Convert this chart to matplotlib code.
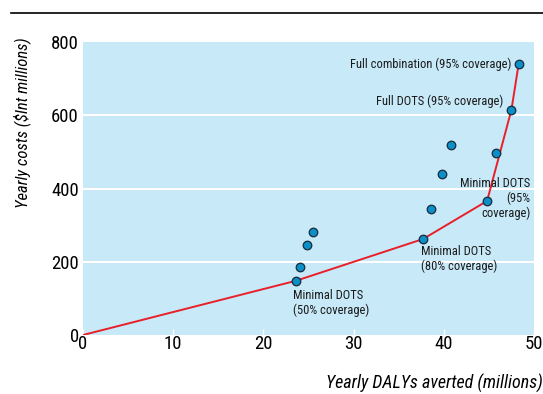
import matplotlib
matplotlib.use("Agg")
from matplotlib import pyplot as plt
from matplotlib import font_manager

# frontier points (DALYs averted in millions, cost in $Int millions)
frontier_x = [0, 23.6, 37.7, 44.8, 47.5, 48.3]
frontier_y = [0, 148, 262, 366, 615, 740]

# all interventions shown as dots
points_x = [23.6, 24.1, 24.8, 25.5, 37.7, 38.6, 39.8, 40.8, 44.8, 45.8, 47.5, 48.3]
points_y = [148, 186, 246, 281, 262, 344, 440, 519, 366, 497, 615, 740]

labels = [
    "Minimal DOTS\n(50% coverage)",
    "Minimal DOTS\n(80% coverage)",
    "Minimal DOTS\n(95%\ncoverage)",
    "Full DOTS (95% coverage)",
    "Full combination (95% coverage)",
]
label_x = [23.6, 37.7, 44.8, 47.5, 48.3]
label_y = [148, 262, 366, 615, 740]

xticks = [0, 10, 20, 30, 40, 50]
yticks = [0, 200, 400, 600, 800]

names = {f.name for f in font_manager.fontManager.ttflist}
family = "Roboto Condensed" if "Roboto Condensed" in names else "Liberation Sans"
plt.rcParams["font.family"] = [family, "DejaVu Sans"]

fig = plt.figure(figsize=(5.43, 3.94), dpi=100)
ax = fig.add_axes([83 / 543, 1 - 335 / 394, (534 - 83) / 543, (335 - 42) / 394])
ax.set_facecolor("#c8e9f8")
for s in ax.spines.values():
    s.set_visible(False)

for y in yticks[1:4]:
    ax.axhline(y, color="white", lw=1.5, zorder=1)

ax.plot(frontier_x, frontier_y, color="#e8202a", lw=1.4, zorder=2)
ax.scatter(points_x, points_y, s=38, color="#0a8fc8", edgecolor="#1a2a3a",
           linewidth=0.9, zorder=3)

ax.set_xlim(0, 50)
ax.set_ylim(0, 800)
ax.set_xticks(xticks)
ax.set_yticks(yticks)
ax.tick_params(axis="x", direction="in", length=4, color="white", width=1,
               labelsize=13.5, pad=0)
ax.tick_params(axis="y", length=0, labelsize=13.5, pad=3)

fs = 9
offsets = [(-2, -6), (-1.5, -4.5), (31, 17), (-6, 6), (-5, 0)]
aligns = [("left", "top"), ("left", "top"), ("right", "top"),
          ("right", "center"), ("right", "center")]
for text, x, y, off, (ha, va) in zip(labels, label_x, label_y, offsets, aligns):
    ax.annotate(text, (x, y), xytext=off, textcoords="offset points",
                ha=ha, va=va, fontsize=fs, color="#1a1a1a", multialignment=ha,
                linespacing=1.15)

fig.text(22 / 543, 1 - 123 / 394, "Yearly costs ($Int millions)", rotation=90,
         ha="center", va="center", fontsize=12, style="italic")
fig.text(543 / 543, 1 - 383 / 394, "Yearly DALYs averted (millions)",
         ha="right", va="center", fontsize=13, style="italic")

fig.add_artist(plt.Line2D([11 / 543, 1], [1 - 13 / 394, 1 - 13 / 394],
                          color="black", lw=1.2, transform=fig.transFigure))

fig.savefig("out.png", dpi=100)
